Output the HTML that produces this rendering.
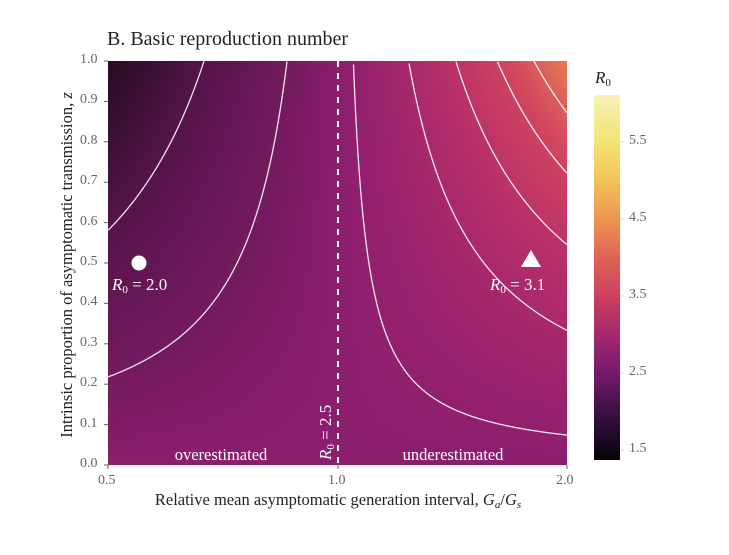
<!DOCTYPE html>
<html><head><meta charset="utf-8"><style>
body{margin:0;background:#fff;width:729px;height:555px;overflow:hidden;position:relative;font-family:"Liberation Serif",serif;}
.t{position:absolute;white-space:nowrap;}
.tick{position:absolute;font-size:14px;color:#666;}
</style></head><body>
<div class="t" style="left:107px;top:28px;font-size:20px;color:#222;">B. Basic reproduction number</div>
<canvas id="c" width="459" height="404" style="position:absolute;left:108px;top:61px;"></canvas>
<canvas id="cb" width="26" height="365" style="position:absolute;left:594px;top:95px;"></canvas>
<svg id="s" width="729" height="555" style="position:absolute;left:0;top:0;">
<g stroke="#666" stroke-width="1">
<line x1="104" y1="61" x2="108" y2="61"/><line x1="104" y1="101.4" x2="108" y2="101.4"/><line x1="104" y1="141.8" x2="108" y2="141.8"/><line x1="104" y1="182.2" x2="108" y2="182.2"/><line x1="104" y1="222.6" x2="108" y2="222.6"/><line x1="104" y1="263" x2="108" y2="263"/><line x1="104" y1="303.4" x2="108" y2="303.4"/><line x1="104" y1="343.8" x2="108" y2="343.8"/><line x1="104" y1="384.2" x2="108" y2="384.2"/><line x1="104" y1="424.6" x2="108" y2="424.6"/><line x1="104" y1="465" x2="108" y2="465"/>
<line x1="108" y1="465" x2="108" y2="469"/><line x1="338" y1="465" x2="338" y2="469"/><line x1="567" y1="465" x2="567" y2="469"/>
</g>
<g id="cont" fill="none" stroke="#fff" stroke-width="1.3" opacity="0.9"></g>
<line x1="338" y1="61" x2="338" y2="465" stroke="#fff" stroke-width="2" stroke-dasharray="6,6"/>
<circle cx="139" cy="263" r="7.5" fill="#fff"/>
<polygon points="531,250 541,267 521,267" fill="#fff"/>
<text x="112" y="290" fill="#fff" font-family="Liberation Serif" font-size="17" font-style="italic">R<tspan font-size="11" font-style="normal" dy="3">0</tspan><tspan dy="-3" font-style="normal"> = 2.0</tspan></text>
<text x="490" y="290" fill="#fff" font-family="Liberation Serif" font-size="17" font-style="italic">R<tspan font-size="11" font-style="normal" dy="3">0</tspan><tspan dy="-3" font-style="normal"> = 3.1</tspan></text>
<text transform="translate(331,460) rotate(-90)" fill="#fff" font-family="Liberation Serif" font-size="17" font-style="italic">R<tspan font-size="11" font-style="normal" dy="3">0</tspan><tspan dy="-3" font-style="normal"> = 2.5</tspan></text>
<text x="221" y="460" fill="#fff" text-anchor="middle" font-family="Liberation Serif" font-size="16.5">overestimated</text>
<text x="453" y="460" fill="#fff" text-anchor="middle" font-family="Liberation Serif" font-size="16.5">underestimated</text>
<text transform="translate(72,265) rotate(-90)" text-anchor="middle" fill="#222" font-family="Liberation Serif" font-size="16.5">Intrinsic proportion of asymptomatic transmission, <tspan font-style="italic">z</tspan></text>
<text x="338" y="505" text-anchor="middle" fill="#222" font-family="Liberation Serif" font-size="16.5">Relative mean asymptomatic generation interval, <tspan font-style="italic">G</tspan><tspan font-style="italic" font-size="11" dy="3">a</tspan><tspan dy="-3">/</tspan><tspan font-style="italic">G</tspan><tspan font-style="italic" font-size="11" dy="3">s</tspan></text>
<text x="595" y="83" fill="#222" font-family="Liberation Serif" font-size="17" font-style="italic">R<tspan font-size="11" font-style="normal" dy="3">0</tspan></text>
<g stroke="#ddd" stroke-width="1"><line x1="620" y1="142" x2="624" y2="142"/><line x1="620" y1="219" x2="624" y2="219"/><line x1="620" y1="296" x2="624" y2="296"/><line x1="620" y1="373" x2="624" y2="373"/><line x1="620" y1="450" x2="624" y2="450"/></g>
</svg>
<div class="tick" style="left:80px;top:52px;">1.0</div>
<div class="tick" style="left:80px;top:92px;">0.9</div>
<div class="tick" style="left:80px;top:133px;">0.8</div>
<div class="tick" style="left:80px;top:173px;">0.7</div>
<div class="tick" style="left:80px;top:214px;">0.6</div>
<div class="tick" style="left:80px;top:254px;">0.5</div>
<div class="tick" style="left:80px;top:294px;">0.4</div>
<div class="tick" style="left:80px;top:335px;">0.3</div>
<div class="tick" style="left:80px;top:375px;">0.2</div>
<div class="tick" style="left:80px;top:416px;">0.1</div>
<div class="tick" style="left:80px;top:456px;">0.0</div>
<div class="tick" style="left:98px;top:473px;">0.5</div>
<div class="tick" style="left:328px;top:473px;">1.0</div>
<div class="tick" style="left:556px;top:473px;">2.0</div>
<div class="tick" style="left:629px;top:133px;">5.5</div>
<div class="tick" style="left:629px;top:210px;">4.5</div>
<div class="tick" style="left:629px;top:287px;">3.5</div>
<div class="tick" style="left:629px;top:364px;">2.5</div>
<div class="tick" style="left:629px;top:441px;">1.5</div>
<script>
var stops=[[1.37,5,3,10],[1.75,40,12,35],[2.0,85,20,75],[2.5,140,30,110],[3.0,180,45,105],[3.5,210,70,95],[4.0,232,125,85],[4.5,240,155,80],[5.0,242,195,90],[5.5,242,228,115],[6.1,245,242,185]];
var cbstops=[[1.37,5,3,10],[1.9,50,15,60],[2.5,120,25,110],[3.0,165,40,110],[3.5,205,65,95],[4.0,225,100,85],[4.5,238,150,80],[5.0,242,195,90],[5.5,242,228,115],[6.1,245,242,185]];
function col(v,st){if(v<=st[0][0])return st[0].slice(1);for(var i=1;i<st.length;i++){if(v<=st[i][0]){var a=st[i-1],b=st[i],t=(v-a[0])/(b[0]-a[0]);return [a[1]+t*(b[1]-a[1]),a[2]+t*(b[2]-a[2]),a[3]+t*(b[3]-a[3])];}}return st[st.length-1].slice(1);}
function R(g,z){return 1/((1-z)*0.4+z/(1+1.5*g));}
var W=459,H=404;
var c=document.getElementById('c').getContext('2d');var im=c.createImageData(W,H);
for(var y=0;y<H;y++){var z=1-y/(H-1);for(var x=0;x<W;x++){var g=Math.pow(2,(x-230)/229);var k=col(R(g,z),stops);var i=(y*W+x)*4;im.data[i]=k[0];im.data[i+1]=k[1];im.data[i+2]=k[2];im.data[i+3]=255;}}
c.putImageData(im,0,0);
var cb=document.getElementById('cb').getContext('2d');var im2=cb.createImageData(26,365);
for(var y=0;y<365;y++){var v=6.1-(y/364)*(6.1-1.37);var k=col(v,cbstops);for(var x=0;x<26;x++){var i=(y*26+x)*4;im2.data[i]=k[0];im2.data[i+1]=k[1];im2.data[i+2]=k[2];im2.data[i+3]=255;}}
cb.putImageData(im2,0,0);
var levels=[2.0,2.2857,2.5714,2.8571,3.1429,3.4286,3.7143];
var gEl=document.getElementById('cont');var s='';
levels.forEach(function(L){var d='',started=false;for(var x=0;x<=459;x+=0.5){var g=Math.pow(2,(x-230)/229);var Ma=1/(1+1.5*g);if(Math.abs(Ma-0.4)<1e-9)continue;var z=(1/L-0.4)/(Ma-0.4);if(z>=0&&z<=1){var px=108+x,py=465-z*404;d+=(started?'L':'M')+px.toFixed(1)+','+py.toFixed(1);started=true;}else started=false;}
s+='<path d="'+d+'"/>';});
gEl.innerHTML=s;
</script>
</body></html>
